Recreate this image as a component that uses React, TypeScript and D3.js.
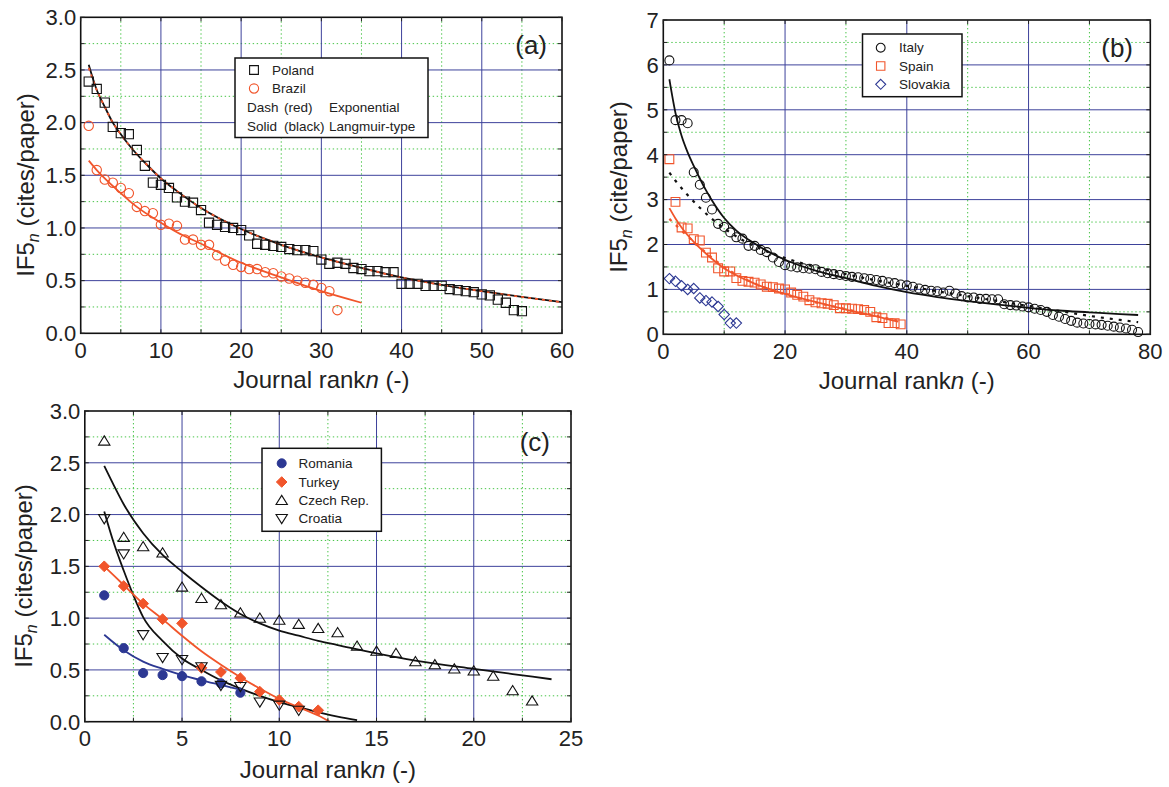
import React from 'react';
import * as d3 from 'd3';

const FONT = "'Liberation Sans', Arial, Helvetica, sans-serif";
const RED = '#f1552b';
const BLUE = '#2c3893';
const NAVY = '#3d429b';
const GREEN = '#47c447';

// ---------- Panel (a) ----------
const aXTicks = [0, 10, 20, 30, 40, 50, 60];
const aYTicks = [0, 0.5, 1, 1.5, 2, 2.5, 3];
const polandIF5 = [2.39, 2.32, 2.19, 1.96, 1.90, 1.89, 1.74, 1.59, 1.43, 1.41,
  1.38, 1.29, 1.25, 1.24, 1.17, 1.05, 1.03, 1.01, 1.00, 0.98,
  0.93, 0.85, 0.84, 0.83, 0.82, 0.80, 0.79, 0.79, 0.78, 0.70,
  0.66, 0.67, 0.66, 0.62, 0.61, 0.59, 0.59, 0.58, 0.58, 0.47,
  0.47, 0.47, 0.45, 0.45, 0.45, 0.42, 0.41, 0.40, 0.39, 0.37,
  0.36, 0.32, 0.29, 0.22, 0.21];
const brazilIF5 = [1.97, 1.55, 1.46, 1.43, 1.38, 1.33, 1.20, 1.16, 1.14, 1.03,
  1.04, 1.02, 0.89, 0.89, 0.84, 0.84, 0.74, 0.69, 0.65, 0.63,
  0.61, 0.61, 0.58, 0.57, 0.54, 0.52, 0.50, 0.48, 0.46, 0.43,
  0.40, 0.22];
const polandFitN = [1, 2, 3, 4, 5, 6, 7, 8, 10, 12, 15, 20, 25, 30, 35, 40, 45, 50, 55, 60];
const polandLangmuir = [2.55, 2.31, 2.15, 2.0, 1.89, 1.79, 1.70, 1.62, 1.47, 1.35, 1.19, 0.99, 0.84, 0.72, 0.62, 0.53, 0.46, 0.40, 0.345, 0.295];
const polandExp = [2.52, 2.31, 2.15, 2.0, 1.89, 1.79, 1.70, 1.62, 1.47, 1.35, 1.19, 0.99, 0.84, 0.72, 0.62, 0.53, 0.46, 0.40, 0.345, 0.295];
const brazilFitN = [1, 2, 3, 5, 7, 10, 12, 15, 20, 25, 30, 35];
const brazilFit = [1.64, 1.55, 1.47, 1.33, 1.20, 1.05, 0.96, 0.85, 0.67, 0.53, 0.40, 0.29];

// ---------- Panel (b) ----------
const bXTicks = [0, 20, 40, 60, 80];
const bYTicks = [0, 1, 2, 3, 4, 5, 6, 7];
const italyIF5 = [6.10, 4.77, 4.77, 4.70, 3.61, 3.33, 3.04, 2.78, 2.46, 2.39,
  2.27, 2.16, 2.13, 1.97, 1.97, 1.88, 1.83, 1.71, 1.61, 1.54,
  1.51, 1.49, 1.47, 1.46, 1.45, 1.39, 1.36, 1.34, 1.32, 1.30,
  1.28, 1.27, 1.25, 1.23, 1.21, 1.19, 1.16, 1.14, 1.11, 1.09,
  1.06, 1.02, 0.99, 0.97, 0.96, 0.93, 0.97, 0.91, 0.85, 0.82,
  0.82, 0.79, 0.79, 0.78, 0.78, 0.67, 0.65, 0.64, 0.62, 0.60,
  0.57, 0.54, 0.50, 0.43, 0.39, 0.34, 0.30, 0.26, 0.24, 0.23,
  0.22, 0.21, 0.19, 0.17, 0.15, 0.13, 0.10, 0.05];
const spainIF5 = [3.90, 2.95, 2.38, 2.36, 2.12, 2.09, 1.82, 1.71, 1.47, 1.40,
  1.40, 1.25, 1.19, 1.17, 1.15, 1.11, 1.06, 1.05, 1.02, 1.00,
  0.93, 0.88, 0.84, 0.76, 0.71, 0.69, 0.68, 0.65, 0.58, 0.58,
  0.57, 0.56, 0.54, 0.50, 0.38, 0.36, 0.25, 0.25, 0.22];
const slovakiaIF5 = [1.24, 1.18, 1.08, 1.00, 1.02, 0.81, 0.75, 0.72, 0.62, 0.44, 0.25, 0.25];
const italyFitN = [1, 2, 3, 4, 5, 6, 7, 8, 10, 12, 15, 20, 25, 30, 35, 40, 45, 50, 55, 60, 65, 70, 75, 78];
const italyLangmuir = [5.68, 4.93, 4.42, 4.05, 3.75, 3.47, 3.21, 2.98, 2.59, 2.31, 2.02, 1.66, 1.42, 1.25, 1.08, 0.94, 0.83, 0.74, 0.66, 0.59, 0.53, 0.49, 0.45, 0.43];
const italyExpN = [1, 2, 4, 6, 8, 10, 13, 16, 20, 25, 30, 35, 40, 45, 50, 55, 60, 65, 70, 75, 78];
const italyExp = [3.60, 3.42, 3.10, 2.82, 2.57, 2.36, 2.10, 1.90, 1.70, 1.50, 1.34, 1.20, 1.08, 0.96, 0.85, 0.74, 0.63, 0.52, 0.41, 0.32, 0.27];
const spainFitN = [1, 2, 3, 5, 7, 10, 15, 20, 25, 30, 35, 38.6];
const spainLangmuir = [2.81, 2.58, 2.38, 2.06, 1.80, 1.47, 1.13, 0.90, 0.72, 0.55, 0.40, 0.28];
const spainExp = [2.57, 2.44, 2.31, 2.06, 1.82, 1.50, 1.13, 0.89, 0.71, 0.56, 0.41, 0.30];

// ---------- Panel (c) ----------
const cXTicks = [0, 5, 10, 15, 20, 25];
const cYTicks = [0, 0.5, 1, 1.5, 2, 2.5, 3];
const romaniaIF5 = [1.22, 0.71, 0.47, 0.45, 0.44, 0.39, 0.37, 0.28];
const turkeyIF5 = [1.50, 1.31, 1.14, 0.99, 0.95, 0.52, 0.48, 0.42, 0.29, 0.21, 0.145, 0.11];
const czechIF5 = [2.71, 1.78, 1.69, 1.63, 1.30, 1.19, 1.13, 1.05, 1.00, 0.98, 0.94, 0.90, 0.86, 0.73, 0.68, 0.66, 0.58, 0.55, 0.51, 0.49, 0.44, 0.30, 0.20];
const croatiaIF5 = [1.96, 1.62, 0.84, 0.62, 0.60, 0.53, 0.35, 0.34, 0.19, 0.16, 0.11];
const romaniaFitN = [1, 2, 3, 4, 5, 6, 7, 8];
const romaniaFit = [0.84, 0.69, 0.58, 0.51, 0.45, 0.40, 0.355, 0.31];
const turkeyFitN = [1, 2, 3, 4, 5, 6, 7, 8, 9, 10, 11, 12, 12.6];
const turkeyFit = [1.50, 1.32, 1.14, 0.99, 0.83, 0.68, 0.55, 0.43, 0.32, 0.22, 0.14, 0.06, 0.0];
const czechFitN = [1, 1.5, 2, 3, 4, 5, 6, 7, 8, 9, 10, 11, 12, 13, 15, 17, 20, 22, 24];
const czechFit = [2.47, 2.28, 2.10, 1.82, 1.61, 1.45, 1.30, 1.16, 1.04, 0.95, 0.88, 0.83, 0.78, 0.74, 0.66, 0.59, 0.51, 0.46, 0.41];
const croatiaFitN = [1, 1.5, 2, 2.5, 3, 4, 5, 6, 7, 8, 9, 10, 11, 12, 13, 14];
const croatiaFit = [2.03, 1.72, 1.46, 1.22, 1.01, 0.78, 0.61, 0.50, 0.40, 0.32, 0.25, 0.19, 0.14, 0.09, 0.05, 0.015];

type Shape = 'square' | 'circle' | 'diamond' | 'triUp' | 'triDown';

function markerPath(shape: Shape, x: number, y: number, s: number): string {
  switch (shape) {
    case 'square':
      return `M${x - s},${y - s}h${2 * s}v${2 * s}h${-2 * s}Z`;
    case 'diamond':
      return `M${x},${y - s}L${x + s},${y}L${x},${y + s}L${x - s},${y}Z`;
    case 'triUp':
      return `M${x},${y - s * 0.95}L${x + s * 1.05},${y + s * 0.75}L${x - s * 1.05},${y + s * 0.75}Z`;
    case 'triDown':
      return `M${x},${y + s * 0.95}L${x + s * 1.05},${y - s * 0.75}L${x - s * 1.05},${y - s * 0.75}Z`;
    default:
      return `M${x - s},${y}a${s},${s} 0 1,0 ${2 * s},0a${s},${s} 0 1,0 ${-2 * s},0Z`;
  }
}

interface Series { values: number[]; shape: Shape; stroke: string; fill: string; size: number; sw?: number }
interface Fit { n: number[]; v: number[]; color: string; width: number; dash?: string }
interface Box { l: number; r: number; t: number; b: number }

interface PanelProps {
  box: Box;
  xTicks: number[];
  yTicks: number[];
  yFmt: (v: number) => string;
  fits: Fit[];
  series: Series[];
  yUnit: string;
  yTitleX: number;
  yTitleY: number;
  xTitleY: number;
  label: string;
  labelX: number;
  labelY: number;
}

function Panel(p: PanelProps) {
  const { box } = p;
  const x = d3.scaleLinear().domain([p.xTicks[0], p.xTicks[p.xTicks.length - 1]]).range([box.l, box.r]);
  const y = d3.scaleLinear().domain([p.yTicks[0], p.yTicks[p.yTicks.length - 1]]).range([box.b, box.t]);
  const xMinor = d3.pairs(p.xTicks).map(([a, b]) => (a + b) / 2);
  const yMinor = d3.pairs(p.yTicks).map(([a, b]) => (a + b) / 2);
  const line = d3.line<number[]>().x(d => x(d[0])).y(d => y(d[1])).curve(d3.curveMonotoneX);
  const tl = 4;
  return (
    <g>
      {xMinor.map(v => (
        <line key={'xm' + v} x1={x(v)} x2={x(v)} y1={box.t} y2={box.b} stroke={GREEN} strokeWidth={1} strokeDasharray="1.4,2.6" />
      ))}
      {yMinor.map(v => (
        <line key={'ym' + v} x1={box.l} x2={box.r} y1={y(v)} y2={y(v)} stroke={GREEN} strokeWidth={1} strokeDasharray="1.4,2.6" />
      ))}
      {p.xTicks.slice(1, -1).map(v => (
        <line key={'xM' + v} x1={x(v)} x2={x(v)} y1={box.t} y2={box.b} stroke={NAVY} strokeWidth={1} />
      ))}
      {p.yTicks.slice(1, -1).map(v => (
        <line key={'yM' + v} x1={box.l} x2={box.r} y1={y(v)} y2={y(v)} stroke={NAVY} strokeWidth={1} />
      ))}
      {p.fits.map((f, i) => (
        <path key={'f' + i} d={line(d3.zip(f.n, f.v)) || ''} fill="none" stroke={f.color} strokeWidth={f.width} strokeDasharray={f.dash} />
      ))}
      {p.series.map((s, i) => (
        <g key={'s' + i}>
          {s.values.map((v, j) => (
            <path key={j} d={markerPath(s.shape, x(j + 1), y(v), s.size)} fill={s.fill} stroke={s.stroke} strokeWidth={s.sw ?? 1} />
          ))}
        </g>
      ))}
      <rect x={box.l} y={box.t} width={box.r - box.l} height={box.b - box.t} fill="none" stroke="#111" strokeWidth={1.6} />
      {[...p.xTicks, ...xMinor].map(v => (
        <g key={'xt' + v}>
          <line x1={x(v)} x2={x(v)} y1={box.b} y2={box.b - tl} stroke="#222" strokeWidth={1} />
          <line x1={x(v)} x2={x(v)} y1={box.t} y2={box.t + tl} stroke="#222" strokeWidth={1} />
        </g>
      ))}
      {[...p.yTicks, ...yMinor].map(v => (
        <g key={'yt' + v}>
          <line x1={box.l} x2={box.l + tl} y1={y(v)} y2={y(v)} stroke="#222" strokeWidth={1} />
          <line x1={box.r} x2={box.r - tl} y1={y(v)} y2={y(v)} stroke="#222" strokeWidth={1} />
        </g>
      ))}
      {p.xTicks.map(v => (
        <text key={'xl' + v} x={x(v)} y={box.b + 24.5} textAnchor="middle" fontSize={22} fill="#222">{v}</text>
      ))}
      {p.yTicks.map(v => (
        <text key={'yl' + v} x={box.l - 4.5} y={y(v) + 7.8} textAnchor="end" fontSize={22} fill="#222">{p.yFmt(v)}</text>
      ))}
      <text transform={`translate(${p.yTitleX},${p.yTitleY}) rotate(-90)`} textAnchor="middle" fontSize={24} fill="#222">
        IF5<tspan fontSize={16} fontStyle="italic" dy={5}>n</tspan><tspan dy={-5}>{'\u00a0' + p.yUnit}</tspan>
      </text>
      <text x={(box.l + box.r) / 2} y={p.xTitleY} textAnchor="middle" fontSize={24} fill="#222">
        Journal rank<tspan fontStyle="italic">n</tspan> (-)
      </text>
      <text x={p.labelX} y={p.labelY} textAnchor="end" fontSize={26} fill="#222">{p.label}</text>
    </g>
  );
}

export default function App() {
  const f1 = d3.format('.1f');
  const fd = d3.format('d');
  const lgFont = 13.5;
  return (
    <svg width={1169} height={787} style={{ position: 'absolute', left: 0, top: 0, background: '#fff' }} fontFamily={FONT}>
      <rect x={0} y={0} width={1169} height={787} fill="#fff" />
      <Panel
        box={{ l: 80.7, r: 562, t: 17.3, b: 333.3 }}
        xTicks={aXTicks} yTicks={aYTicks} yFmt={f1}
        fits={[
          { n: polandFitN, v: polandLangmuir, color: '#111', width: 1.8 },
          { n: polandFitN, v: polandExp, color: RED, width: 1.8, dash: '3,4' },
          { n: brazilFitN, v: brazilFit, color: RED, width: 1.8 },
        ]}
        series={[
          { values: polandIF5, shape: 'square', stroke: '#111', fill: 'none', size: 4.6, sw: 1.1 },
          { values: brazilIF5, shape: 'circle', stroke: RED, fill: 'none', size: 4.7, sw: 1.1 },
        ]}
        yUnit="(cites/paper)" yTitleX={34} yTitleY={185} xTitleY={388}
        label="(a)" labelX={547} labelY={54}
      />
      <Panel
        box={{ l: 663.3, r: 1150.3, t: 20, b: 334.3 }}
        xTicks={bXTicks} yTicks={bYTicks} yFmt={fd}
        fits={[
          { n: italyExpN, v: italyExp, color: '#111', width: 2.2, dash: '3,6' },
          { n: italyFitN, v: italyLangmuir, color: '#111', width: 1.8 },
          { n: spainFitN, v: spainExp, color: RED, width: 2.2, dash: '3,6' },
          { n: spainFitN, v: spainLangmuir, color: RED, width: 1.8 },
        ]}
        series={[
          { values: italyIF5, shape: 'circle', stroke: '#111', fill: 'none', size: 4.5, sw: 1.1 },
          { values: spainIF5, shape: 'square', stroke: RED, fill: 'none', size: 4.4, sw: 1.1 },
          { values: slovakiaIF5, shape: 'diamond', stroke: BLUE, fill: 'none', size: 5.2, sw: 1.1 },
        ]}
        yUnit="(cite/paper)" yTitleX={627} yTitleY={187} xTitleY={389}
        label="(b)" labelX={1133} labelY={57}
      />
      <Panel
        box={{ l: 84.8, r: 571, t: 411, b: 721.7 }}
        xTicks={cXTicks} yTicks={cYTicks} yFmt={f1}
        fits={[
          { n: croatiaFitN, v: croatiaFit, color: '#111', width: 1.8 },
          { n: czechFitN, v: czechFit, color: '#111', width: 1.8 },
          { n: turkeyFitN, v: turkeyFit, color: RED, width: 1.8 },
          { n: romaniaFitN, v: romaniaFit, color: BLUE, width: 1.8 },
        ]}
        series={[
          { values: romaniaIF5, shape: 'circle', stroke: BLUE, fill: BLUE, size: 4.6 },
          { values: turkeyIF5, shape: 'diamond', stroke: RED, fill: RED, size: 5.4 },
          { values: czechIF5, shape: 'triUp', stroke: '#111', fill: 'none', size: 5.4, sw: 1.1 },
          { values: croatiaIF5, shape: 'triDown', stroke: '#111', fill: 'none', size: 5.4, sw: 1.1 },
        ]}
        yUnit="(cites/paper)" yTitleX={32} yTitleY={576} xTitleY={778}
        label="(c)" labelX={550} labelY={451}
      />

      {/* Legend (a) */}
      <g fontSize={lgFont} fill="#222">
        <rect x={235} y={58} width={193} height={79.5} fill="#fff" stroke="#111" strokeWidth={1.5} />
        <path d={markerPath('square', 254, 70, 4.4)} fill="none" stroke="#111" strokeWidth={1.1} />
        <text x={272} y={74.5}>Poland</text>
        <path d={markerPath('circle', 254, 88.5, 4.6)} fill="none" stroke={RED} strokeWidth={1.1} />
        <text x={272} y={93}>Brazil</text>
        <text x={247} y={111.5}>Dash</text>
        <text x={284} y={111.5}>(red)</text>
        <text x={329} y={111.5}>Exponential</text>
        <text x={247} y={130.5}>Solid</text>
        <text x={284} y={130.5}>(black)</text>
        <text x={329} y={130.5}>Langmuir-type</text>
      </g>

      {/* Legend (b) */}
      <g fontSize={lgFont} fill="#222">
        <rect x={862.5} y={34} width={99.5} height={62.7} fill="#fff" stroke="#111" strokeWidth={1.5} />
        <path d={markerPath('circle', 880.7, 47.7, 4.4)} fill="none" stroke="#111" strokeWidth={1.1} />
        <text x={899} y={52.2}>Italy</text>
        <path d={markerPath('square', 880.7, 66, 4.2)} fill="none" stroke={RED} strokeWidth={1.1} />
        <text x={899} y={70.5}>Spain</text>
        <path d={markerPath('diamond', 880.7, 84.3, 5)} fill="none" stroke={BLUE} strokeWidth={1.1} />
        <text x={899} y={88.8}>Slovakia</text>
      </g>

      {/* Legend (c) */}
      <g fontSize={lgFont} fill="#222">
        <rect x={262} y={448.3} width={119.4} height={83} fill="#fff" stroke="#111" strokeWidth={1.5} />
        <path d={markerPath('circle', 281.7, 463.3, 4.5)} fill={BLUE} stroke={BLUE} />
        <text x={298.5} y={467.8}>Romania</text>
        <path d={markerPath('diamond', 281.7, 482, 5.3)} fill={RED} stroke={RED} />
        <text x={298.5} y={486.5}>Turkey</text>
        <path d={markerPath('triUp', 281.7, 500.5, 5.4)} fill="none" stroke="#111" strokeWidth={1.1} />
        <text x={298.5} y={504.8}>Czech Rep.</text>
        <path d={markerPath('triDown', 281.7, 518.5, 5.4)} fill="none" stroke="#111" strokeWidth={1.1} />
        <text x={298.5} y={523}>Croatia</text>
      </g>
    </svg>
  );
}
